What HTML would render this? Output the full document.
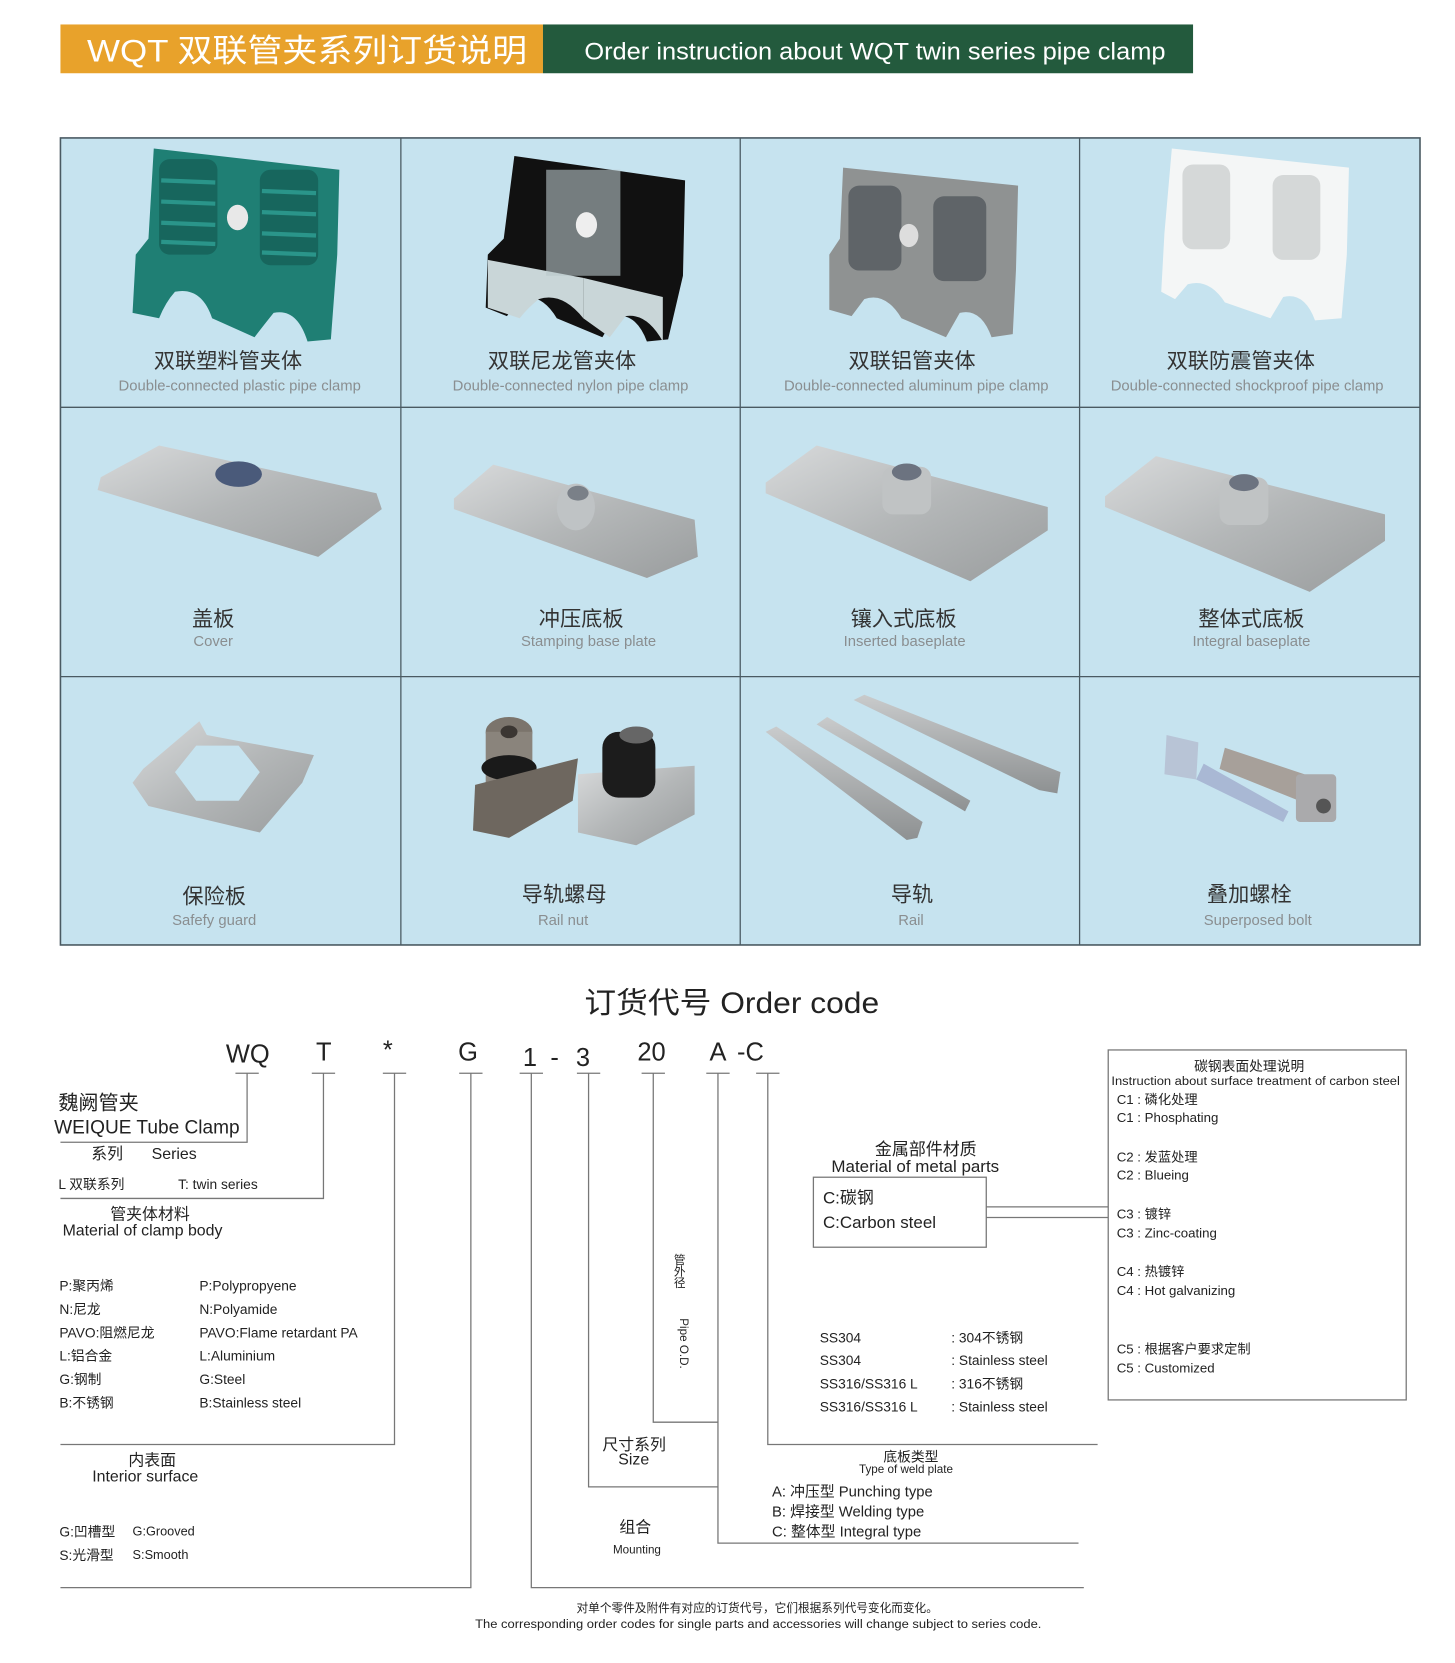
<!DOCTYPE html>
<html><head><meta charset="utf-8"><style>
html,body{margin:0;padding:0;background:#fff;}
svg{display:block;}
text{font-family:"Liberation Sans","Noto Sans CJK SC",sans-serif;}
</style></head><body>
<svg width="1455" height="1663" viewBox="0 0 1372 1568" xmlns="http://www.w3.org/2000/svg">
<defs>
<linearGradient id="met" x1="0" y1="0" x2="1" y2="1"><stop offset="0" stop-color="#d8dadb"/><stop offset="0.5" stop-color="#b4b7b8"/><stop offset="1" stop-color="#9a9d9e"/></linearGradient>
<linearGradient id="metd" x1="0" y1="0" x2="0" y2="1"><stop offset="0" stop-color="#c9cbcc"/><stop offset="1" stop-color="#8e9192"/></linearGradient>
</defs>
<!-- header -->
<rect x="57" y="23" width="455" height="46" fill="#e8a22b"/>
<rect x="512" y="23" width="613" height="46" fill="#235a3d"/>
<text x="82" y="58" font-size="30" fill="#fff" textLength="415" lengthAdjust="spacingAndGlyphs">WQT 双联管夹系列订货说明</text>
<text x="551" y="56" font-size="23" fill="#fff" textLength="548" lengthAdjust="spacingAndGlyphs">Order instruction about WQT twin series pipe clamp</text>

<!-- grid -->
<rect x="57" y="130" width="1282" height="761" fill="#c6e3ef" stroke="#4a5a62" stroke-width="1.5"/>
<g stroke="#4a5a62" stroke-width="1.2">
<line x1="378" y1="130" x2="378" y2="891"/><line x1="698" y1="130" x2="698" y2="891"/><line x1="1018" y1="130" x2="1018" y2="891"/>
<line x1="57" y1="384" x2="1339" y2="384"/><line x1="57" y1="638" x2="1339" y2="638"/>
</g>

<!-- clamps row 1 -->
<g>
<path d="M145 140 L320 160 L318 240 L312 320 L290 322 Q280 290 258 295 Q246 310 240 318 L200 300 Q190 270 165 275 Q156 285 150 300 L125 295 L128 240 L140 225 Z" fill="#1f7f74"/>
<g fill="#17665d"><rect x="150" y="150" width="55" height="90" rx="10"/><rect x="245" y="160" width="55" height="90" rx="10"/></g>
<g stroke="#2a958a" stroke-width="4"><line x1="152" y1="170" x2="203" y2="172"/><line x1="152" y1="190" x2="203" y2="192"/><line x1="152" y1="210" x2="203" y2="212"/><line x1="152" y1="228" x2="203" y2="230"/><line x1="247" y1="180" x2="298" y2="182"/><line x1="247" y1="200" x2="298" y2="202"/><line x1="247" y1="220" x2="298" y2="222"/><line x1="247" y1="238" x2="298" y2="240"/></g>
<ellipse cx="224" cy="205" rx="10" ry="12" fill="#e8e8e8"/>
</g>
<g>
<path d="M485 147 L646 170 L644 260 L630 320 L610 322 Q600 295 580 298 L568 318 L525 300 Q510 275 490 282 L478 298 L458 290 L460 240 L475 225 Z" fill="#111"/>
<path d="M460 245 L550 262 L550 300 Q530 275 508 282 Q498 290 490 300 L460 290 Z" fill="#c9d6d8"/>
<path d="M550 262 L625 280 L625 322 Q610 295 590 298 L575 318 L550 300 Z" fill="#c9d6d8"/>
<rect x="515" y="160" width="70" height="100" fill="#b9c6c9" opacity="0.6"/>
<ellipse cx="553" cy="212" rx="10" ry="12" fill="#eee"/>
</g>
<g>
<path d="M795 158 L960 175 L958 255 L955 315 L935 318 Q925 290 905 295 L892 318 L850 300 Q835 275 815 282 L803 298 L782 292 L782 240 L792 225 Z" fill="#8f9292"/>
<g fill="#5f6468"><rect x="800" y="175" width="50" height="80" rx="10"/><rect x="880" y="185" width="50" height="80" rx="10"/></g>
<ellipse cx="857" cy="222" rx="9" ry="11" fill="#ddd"/>
</g>
<g>
<path d="M1105 140 L1272 158 L1270 240 L1265 300 L1240 302 Q1230 275 1210 280 L1198 300 L1155 285 Q1140 262 1120 268 L1108 282 L1095 275 L1098 220 Z" fill="#f4f6f6"/>
<g fill="#d5d8d8"><rect x="1115" y="155" width="45" height="80" rx="10"/><rect x="1200" y="165" width="45" height="80" rx="10"/></g>
</g>
<g text-anchor="middle">
<g font-size="20" fill="#333"><text x="215" y="347">双联塑料管夹体</text><text x="530" y="347">双联尼龙管夹体</text><text x="860" y="347">双联铝管夹体</text><text x="1170" y="347">双联防震管夹体</text>
<text x="201" y="590">盖板</text><text x="548" y="590">冲压底板</text><text x="852" y="590">镶入式底板</text><text x="1180" y="590">整体式底板</text>
<text x="202" y="852">保险板</text><text x="532" y="850">导轨螺母</text><text x="860" y="850">导轨</text><text x="1178" y="850">叠加螺栓</text></g>
<g font-size="14" fill="#8a8e90"><text x="226" y="368">Double-connected plastic pipe clamp</text><text x="538" y="368">Double-connected nylon pipe clamp</text><text x="864" y="368">Double-connected aluminum pipe clamp</text><text x="1176" y="368">Double-connected shockproof pipe clamp</text>
<text x="201" y="609">Cover</text><text x="555" y="609">Stamping base plate</text><text x="853" y="609">Inserted baseplate</text><text x="1180" y="609">Integral baseplate</text>
<text x="202" y="872">Safefy guard</text><text x="531" y="872">Rail nut</text><text x="859" y="872">Rail</text><text x="1186" y="872">Superposed bolt</text></g>
</g>

<!-- row 2 parts -->
<path d="M150 420 L355 465 L360 480 L300 525 L92 462 L95 450 Z" fill="url(#met)"/>
<ellipse cx="225" cy="447" rx="22" ry="12" fill="#4a5a7a"/>
<path d="M465 438 L655 490 L658 525 L610 545 L428 480 L428 470 Z" fill="url(#met)"/>
<ellipse cx="543" cy="478" rx="18" ry="22" fill="#bfc3c5"/><ellipse cx="545" cy="465" rx="10" ry="7" fill="#7a8088"/>
<path d="M770 420 L988 478 L988 500 L915 548 L722 465 L722 455 Z" fill="url(#met)"/>
<rect x="832" y="440" width="46" height="45" rx="10" fill="#c0c3c4"/><ellipse cx="855" cy="445" rx="14" ry="8" fill="#6c7380"/>
<path d="M1090 430 L1306 485 L1306 510 L1235 558 L1042 478 L1042 468 Z" fill="url(#met)"/>
<rect x="1150" y="450" width="46" height="45" rx="10" fill="#c0c3c4"/><ellipse cx="1173" cy="455" rx="14" ry="8" fill="#6c7380"/>

<!-- row 3 parts -->
<path d="M188 680 L195 693 L296 712 L285 738 L245 785 L140 760 L125 738 L135 725 Z" fill="url(#met)"/>
<polygon points="185,703 225,703 245,728 225,755 185,755 165,728" fill="#c6e3ef"/>
<ellipse cx="480" cy="690" rx="22" ry="14" fill="#7b746c"/><rect x="458" y="690" width="44" height="55" fill="#8a847c"/><ellipse cx="480" cy="690" rx="8" ry="6" fill="#3b3632"/>
<ellipse cx="480" cy="724" rx="26" ry="12" fill="#1a1a1a"/>
<path d="M448 740 L545 715 L540 755 L480 790 L446 783 Z" fill="#6e675f"/>
<path d="M545 730 L655 722 L655 768 L600 797 L545 785 Z" fill="url(#met)"/>
<rect x="568" y="690" width="50" height="62" rx="15" fill="#1c1c1c"/><ellipse cx="600" cy="693" rx="16" ry="8" fill="#666"/>
<g fill="url(#metd)">
<path d="M722 690 L732 685 L870 775 L865 790 L855 792 Z"/>
<path d="M770 683 L780 676 L915 755 L910 765 Z"/>
<path d="M805 660 L815 655 L1000 728 L997 748 L980 745 Z"/>
</g>
<path d="M1100 693 L1130 700 L1128 735 L1098 730 Z" fill="#b8c4d6"/>
<path d="M1135 720 L1215 765 L1210 775 L1128 735 Z" fill="#a9b8d4"/>
<path d="M1155 705 L1230 730 L1225 755 L1150 725 Z" fill="#a7a09a"/>
<rect x="1222" y="730" width="38" height="45" rx="4" fill="#aaaaac"/><circle cx="1248" cy="760" r="7" fill="#555"/>

<!-- order code -->
<text x="551" y="955" font-size="28" fill="#222" textLength="278" lengthAdjust="spacingAndGlyphs">订货代号  Order code</text>
<g font-size="24" fill="#222">
<text x="213" y="1002">WQ</text><text x="298" y="1000">T</text><text x="361" y="998">*</text><text x="432" y="1000">G</text><text x="493" y="1005">1</text><text x="519" y="1005">-</text><text x="543" y="1005">3</text><text x="601" y="1000">20</text><text x="669" y="1000">A</text><text x="695" y="1000">-C</text>
</g>
<g stroke="#777" stroke-width="1.2" fill="none">
<path d="M222 1012 H244 M233 1012 V1077 H57"/>
<path d="M294 1012 H316 M305 1012 V1130 H57"/>
<path d="M361 1012 H383 M372 1012 V1362 H57"/>
<path d="M433 1012 H455 M444 1012 V1497 H57"/>
<path d="M490 1012 H512 M501 1012 V1497 H1022"/>
<path d="M544 1012 H566 M555 1012 V1402 H677"/>
<path d="M605 1012 H627 M616 1012 V1341 H677"/>
<path d="M666 1012 H688 M677 1012 V1455 H1017"/>
<path d="M713 1012 H735 M724 1012 V1362 H1035"/>
<rect x="767" y="1110" width="163" height="66"/>
<path d="M930 1138 H1045 M930 1148 H1045"/>
<rect x="1045" y="990" width="281" height="330"/>
</g>
<g fill="#222">
<text x="55" y="1046" font-size="19">魏阙管夹</text>
<text x="51" y="1069" font-size="18">WEIQUE Tube Clamp</text>
<text x="86" y="1093" font-size="15">系列</text><text x="143" y="1093" font-size="15">Series</text>
<text x="55" y="1121" font-size="13">L  双联系列</text><text x="168" y="1121" font-size="13">T: twin series</text>
<text x="104" y="1150" font-size="15">管夹体材料</text><text x="59" y="1165" font-size="15">Material of clamp body</text>
<g font-size="13">
<text x="56" y="1217">P:聚丙烯</text><text x="188" y="1217">P:Polypropyene</text>
<text x="56" y="1239">N:尼龙</text><text x="188" y="1239">N:Polyamide</text>
<text x="56" y="1261">PAVO:阻燃尼龙</text><text x="188" y="1261">PAVO:Flame retardant PA</text>
<text x="56" y="1283">L:铝合金</text><text x="188" y="1283">L:Aluminium</text>
<text x="56" y="1305">G:钢制</text><text x="188" y="1305">G:Steel</text>
<text x="56" y="1327">B:不锈钢</text><text x="188" y="1327">B:Stainless steel</text>
</g>
<text x="121" y="1382" font-size="15">内表面</text><text x="87" y="1397" font-size="15">Interior surface</text>
<text x="56" y="1449" font-size="13">G:凹槽型</text><text x="125" y="1448" font-size="12">G:Grooved</text>
<text x="56" y="1471" font-size="13">S:光滑型</text><text x="125" y="1470" font-size="12">S:Smooth</text>
<text x="568" y="1367" font-size="15">尺寸系列</text><text x="583" y="1381" font-size="15">Size</text>
<text x="584" y="1445" font-size="15">组合</text><text x="578" y="1465" font-size="11">Mounting</text>
<text x="640" y="1182" font-size="11" writing-mode="tb">管外径</text>
<text transform="translate(641 1243) rotate(90)" font-size="11">Pipe O.D.</text>
<text x="825" y="1089" font-size="16">金属部件材质</text><text x="784" y="1105" font-size="16">Material of metal parts</text>
<text x="776" y="1135" font-size="16">C:碳钢</text><text x="776" y="1158" font-size="16">C:Carbon steel</text>
<g font-size="13">
<text x="773" y="1266">SS304</text><text x="897" y="1266">:  304不锈钢</text>
<text x="773" y="1287">SS304</text><text x="897" y="1287">:  Stainless steel</text>
<text x="773" y="1309">SS316/SS316 L</text><text x="897" y="1309">:  316不锈钢</text>
<text x="773" y="1331">SS316/SS316 L</text><text x="897" y="1331">:  Stainless steel</text>
</g>
<text x="833" y="1378" font-size="13">底板类型</text><text x="810" y="1389" font-size="11">Type of weld plate</text>
<g font-size="14"><text x="728" y="1411">A: 冲压型 Punching type</text><text x="728" y="1430">B: 焊接型 Welding type</text><text x="728" y="1449">C: 整体型 Integral type</text></g>
<text x="1126" y="1010" font-size="13">碳钢表面处理说明</text>
<text x="1048" y="1023" font-size="11.5" textLength="272" lengthAdjust="spacingAndGlyphs">Instruction about surface treatment of carbon steel</text>
<g font-size="12.5">
<text x="1053" y="1041">C1 :  磷化处理</text><text x="1053" y="1058">C1 :  Phosphating</text>
<text x="1053" y="1095">C2 :  发蓝处理</text><text x="1053" y="1112">C2 :  Blueing</text>
<text x="1053" y="1149">C3 :  镀锌</text><text x="1053" y="1167">C3 : Zinc-coating</text>
<text x="1053" y="1203">C4 :  热镀锌</text><text x="1053" y="1221">C4 :  Hot galvanizing</text>
<text x="1053" y="1276">C5 :  根据客户要求定制</text><text x="1053" y="1294">C5 :  Customized</text>
</g>
<text x="714" y="1520" font-size="11" text-anchor="middle">对单个零件及附件有对应的订货代号，它们根据系列代号变化而变化。</text>
<text x="448" y="1535" font-size="11.5" textLength="534" lengthAdjust="spacingAndGlyphs">The corresponding order codes for single parts and accessories will change subject to series code.</text>
</g>
</svg>
</body></html>
